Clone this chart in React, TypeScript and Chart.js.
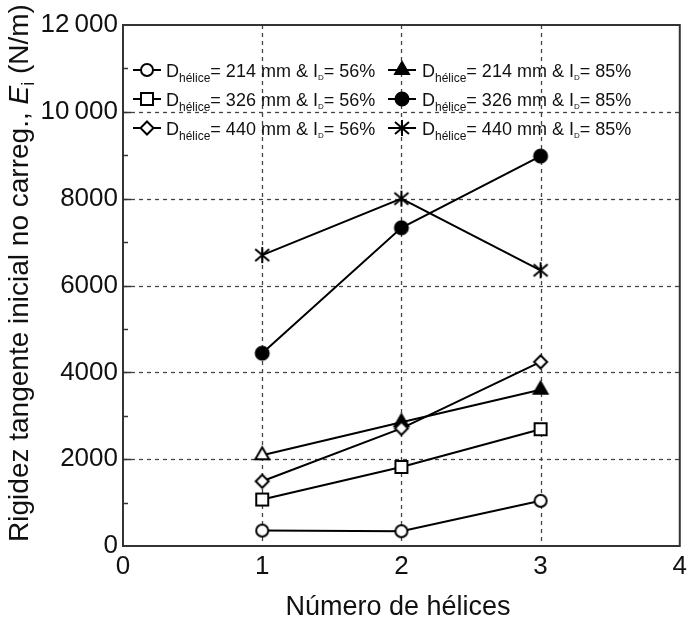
import { useEffect, useRef } from 'react';
import { Chart, registerables } from 'chart.js';

Chart.register(...registerables);

// ---- data ----
const xValues = [1, 2, 3];
const yTickLabels = ['0', '2000', '4000', '6000', '8000', '10\u2009000', '12\u2009000'];
const d214_56 = [355, 340, 1040];
const d326_56 = [1070, 1820, 2690];
const d440_56 = [1490, 2710, 4240];
const d214_85 = [2090, 2850, 3600];
const d326_85 = [4440, 7330, 8980];
const d440_85 = [6700, 8000, 6350];
const diameters = ['214', '326', '440', '214', '326', '440'];
const densities = ['56%', '56%', '56%', '85%', '85%', '85%'];
const seriesValues = [d214_56, d326_56, d440_56, d214_85, d326_85, d440_85];
const markerKinds = ['circle', 'square', 'diamond', 'triangle', 'dot', 'star'];

const FONT = "'Liberation Sans', Arial, Helvetica, sans-serif";

function makeMarker(kind: string, filled: boolean): HTMLCanvasElement {
  const c = document.createElement('canvas');
  c.width = 26;
  c.height = 26;
  const ctx = c.getContext('2d')!;
  ctx.translate(13, 13);
  ctx.lineWidth = 2;
  ctx.strokeStyle = '#000';
  ctx.fillStyle = filled ? '#000' : '#fff';
  ctx.beginPath();
  if (kind === 'circle') {
    ctx.arc(0, 0, 6, 0, Math.PI * 2);
  } else if (kind === 'dot') {
    ctx.arc(0, 0, 6.5, 0, Math.PI * 2);
  } else if (kind === 'square') {
    ctx.rect(-6, -6, 12, 12);
  } else if (kind === 'diamond') {
    ctx.moveTo(0, -6.5);
    ctx.lineTo(6.5, 0);
    ctx.lineTo(0, 6.5);
    ctx.lineTo(-6.5, 0);
    ctx.closePath();
  } else if (kind === 'triangle') {
    const r = 8;
    ctx.moveTo(0, -r);
    ctx.lineTo(r * 0.866, r / 2);
    ctx.lineTo(-r * 0.866, r / 2);
    ctx.closePath();
  }
  if (kind === 'star') {
    ctx.moveTo(0, -8);
    ctx.lineTo(0, 8);
    ctx.moveTo(-7, -6);
    ctx.lineTo(7, 6);
    ctx.moveTo(7, -6);
    ctx.lineTo(-7, 6);
    ctx.stroke();
  } else {
    ctx.fill();
    ctx.stroke();
  }
  return c;
}

export default function App() {
  const ref = useRef<HTMLCanvasElement | null>(null);

  useEffect(() => {
    const canvas = ref.current;
    if (!canvas) return;

    const markers = markerKinds.map((k) => makeMarker(k, k === 'dot' || k === 'triangle'));
    const openTriangle = makeMarker('triangle', false);
    // first triangle point is open in the reference
    const triStyles = [openTriangle, markers[3], markers[3]];

    const datasets = seriesValues.map((vals, i) => ({
      label: `D hélice= ${diameters[i]} mm & I D= ${densities[i]}`,
      data: xValues.map((x, j) => ({ x, y: vals[j] })),
      borderColor: '#000',
      borderWidth: 2,
      pointRadius: 6,
      pointStyle: i === 3 ? triStyles : markers[i],
      fill: false,
      tension: 0,
    }));

    const decor = {
      id: 'decor',
      beforeDatasetsDraw(chart: any) {
        const { ctx, chartArea: a, scales } = chart;
        const xs = scales.x;
        const ys = scales.y;
        ctx.save();
        ctx.strokeStyle = '#444';
        ctx.lineWidth = 1.3;
        ctx.setLineDash([4, 4]);
        xs.ticks.forEach((t: any) => {
          if (t.value <= xs.min || t.value >= xs.max) return;
          const px = Math.round(xs.getPixelForValue(t.value)) + 0.5;
          ctx.beginPath();
          ctx.moveTo(px, a.top);
          ctx.lineTo(px, a.bottom);
          ctx.stroke();
        });
        ys.ticks.forEach((t: any) => {
          if (t.value <= ys.min || t.value >= ys.max) return;
          const py = Math.round(ys.getPixelForValue(t.value)) + 0.5;
          ctx.beginPath();
          ctx.moveTo(a.left, py);
          ctx.lineTo(a.right, py);
          ctx.stroke();
        });
        ctx.restore();
      },
      afterDatasetsDraw(chart: any) {
        const { ctx, chartArea: a, scales } = chart;
        const ys = scales.y;
        ctx.save();
        // frame
        ctx.strokeStyle = '#333';
        ctx.lineWidth = 2;
        ctx.strokeRect(a.left, a.top, a.right - a.left, a.bottom - a.top);
        // inner ticks on the left axis (major + minor)
        ctx.lineWidth = 1.5;
        const step = 1000;
        for (let v = ys.min + step; v < ys.max; v += step) {
          const py = Math.round(ys.getPixelForValue(v)) + 0.5;
          const len = v % 2000 === 0 ? 8 : 5;
          ctx.beginPath();
          ctx.moveTo(a.left, py);
          ctx.lineTo(a.left + len, py);
          ctx.stroke();
        }

        // legend
        const colMarkerX = [147, 402];
        const colTextX = [166, 422];
        const rowY = [70, 99, 128];
        chart.data.datasets.forEach((ds: any, i: number) => {
          const col = Math.floor(i / 3);
          const row = i % 3;
          const mx = colMarkerX[col];
          const my = rowY[row];
          ctx.strokeStyle = '#000';
          ctx.lineWidth = 2;
          ctx.setLineDash([]);
          ctx.beginPath();
          ctx.moveTo(mx - 14, my);
          ctx.lineTo(mx + 14, my);
          ctx.stroke();
          const m = markers[i];
          ctx.drawImage(m, mx - m.width / 2, my - m.height / 2);
          // text with subscripts
          const parts: [string, number, number][] = [
            ['D', 18, 0],
            ['hélice', 12, 5],
            [`= ${diameters[i]} mm & I`, 18, 0],
            ['D', 8, 3],
            [`= ${densities[i]}`, 18, 0],
          ];
          let tx = colTextX[col];
          const base = my + 6.5;
          ctx.fillStyle = '#111';
          ctx.textBaseline = 'alphabetic';
          ctx.textAlign = 'left';
          parts.forEach(([t, size, dy]) => {
            ctx.font = `${size}px ${FONT}`;
            ctx.fillText(t, tx, base + dy);
            tx += ctx.measureText(t).width;
          });
        });

        // x title
        ctx.fillStyle = '#111';
        ctx.font = `27px ${FONT}`;
        ctx.textAlign = 'center';
        ctx.textBaseline = 'alphabetic';
        ctx.fillText('Número de hélices', 398, 615);

        // y title (rotated, with italic E and subscript i)
        const yParts: [string, string, number][] = [
          ['Rigidez tangente inicial no carreg., ', `28px ${FONT}`, 0],
          ['E', `italic 28px ${FONT}`, 0],
          ['i', `18px ${FONT}`, 6],
          [' (N/m)', `28px ${FONT}`, 0],
        ];
        let total = 0;
        yParts.forEach(([t, f]) => {
          ctx.font = f;
          total += ctx.measureText(t).width;
        });
        ctx.translate(28, 273);
        ctx.rotate(-Math.PI / 2);
        ctx.textAlign = 'left';
        let yx = -total / 2;
        yParts.forEach(([t, f, dy]) => {
          ctx.font = f;
          ctx.fillText(t, yx, dy);
          yx += ctx.measureText(t).width;
        });
        ctx.restore();
      },
    };

    const chart = new Chart(canvas, {
      type: 'line',
      data: { datasets },
      options: {
        responsive: false,
        animation: false,
        layout: { padding: { left: 0, right: 9, top: 25, bottom: 0 } },
        plugins: { legend: { display: false }, tooltip: { enabled: false } },
        scales: {
          x: {
            type: 'linear',
            min: 0,
            max: 4,
            ticks: { stepSize: 1, color: '#111', font: { size: 26, family: FONT }, padding: 5 },
            grid: { display: false, drawTicks: false },
            border: { display: false },
            afterFit: (s: any) => {
              s.height = 75;
            },
          },
          y: {
            type: 'linear',
            min: 0,
            max: 12000,
            ticks: {
              stepSize: 2000,
              color: '#111',
              font: { size: 26, family: FONT },
              padding: 5,
              callback: (v: any) => yTickLabels[Math.round(Number(v) / 2000)],
            },
            grid: { display: false, drawTicks: false },
            border: { display: false },
            afterFit: (s: any) => {
              s.width = 123;
            },
          },
        },
      },
      plugins: [decor],
    });

    return () => chart.destroy();
  }, []);

  return (
    <div style={{ position: 'absolute', left: 0, top: 0, width: 692, height: 621, background: '#fff' }}>
      <canvas ref={ref} width={692} height={621} style={{ display: 'block' }} />
    </div>
  );
}
